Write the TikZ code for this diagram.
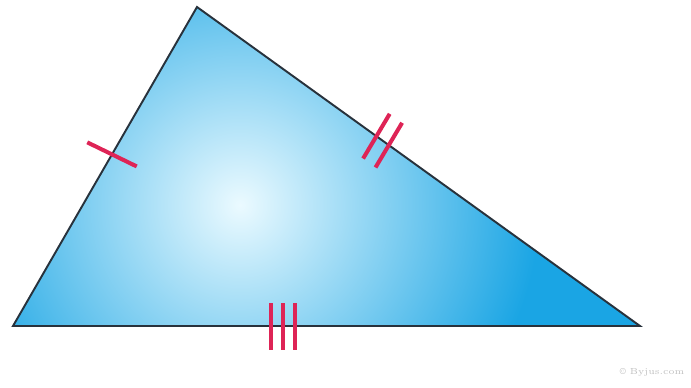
\documentclass[tikz,border=0pt]{standalone}
\usepackage{tikz}
\usetikzlibrary{calc, decorations.markings}

\definecolor{skyblue}{RGB}{26,165,228}
\definecolor{paleblue}{RGB}{235,250,255}
\definecolor{edgegray}{RGB}{40,50,60}
\definecolor{tickred}{RGB}{222,36,86}

\begin{document}
\begin{tikzpicture}[
    x=0.02cm, y=-0.02cm,
    side/.style={draw=edgegray, line width=1.1pt, line join=miter},
    tick/.style={draw=tickred, line width=2.3pt},
    wmark/.style={font=\tiny, text=black!25},
]

\useasboundingbox (0,0) rectangle (691,387);

% ── Vertices ──
\coordinate (top)   at (197,7);
\coordinate (left)  at (13,326);
\coordinate (right) at (640,326);

% ── Shaded body ──
\begin{scope}
    \clip (top) -- (left) -- (right) -- cycle;
    \fill[skyblue] (0,0) rectangle (691,387);
    \shade[inner color=paleblue, outer color=skyblue] (240,205) circle (300);
\end{scope}
\draw[side] (top) -- (left) -- (right) -- cycle;

% ── Equal-side marks ──
% single tick on the left side
\coordinate (m1) at ($(top)!0.462!(left)$);
\draw[tick] ($(m1)!0.55cm!94:(top)$) -- ($(m1)!0.55cm!-86:(top)$);

% double tick on the slanted right side
\foreach \p in {0.405,0.433} {
    \coordinate (m2) at ($(top)!\p!(right)$);
    \draw[tick] ($(m2)!0.52cm!95:(right)$) -- ($(m2)!0.52cm!-85:(right)$);
}

% triple tick on the base
\foreach \p in {0.412,0.431,0.450} {
    \coordinate (m3) at ($(left)!\p!(right)$);
    \draw[tick] ($(m3)+(0,-23)$) -- ($(m3)+(0,24)$);
}

% ── Watermark ──
\node[wmark] (credit) at (652,372) {\textcopyright\ Byjus.com};

\end{tikzpicture}
\end{document}
